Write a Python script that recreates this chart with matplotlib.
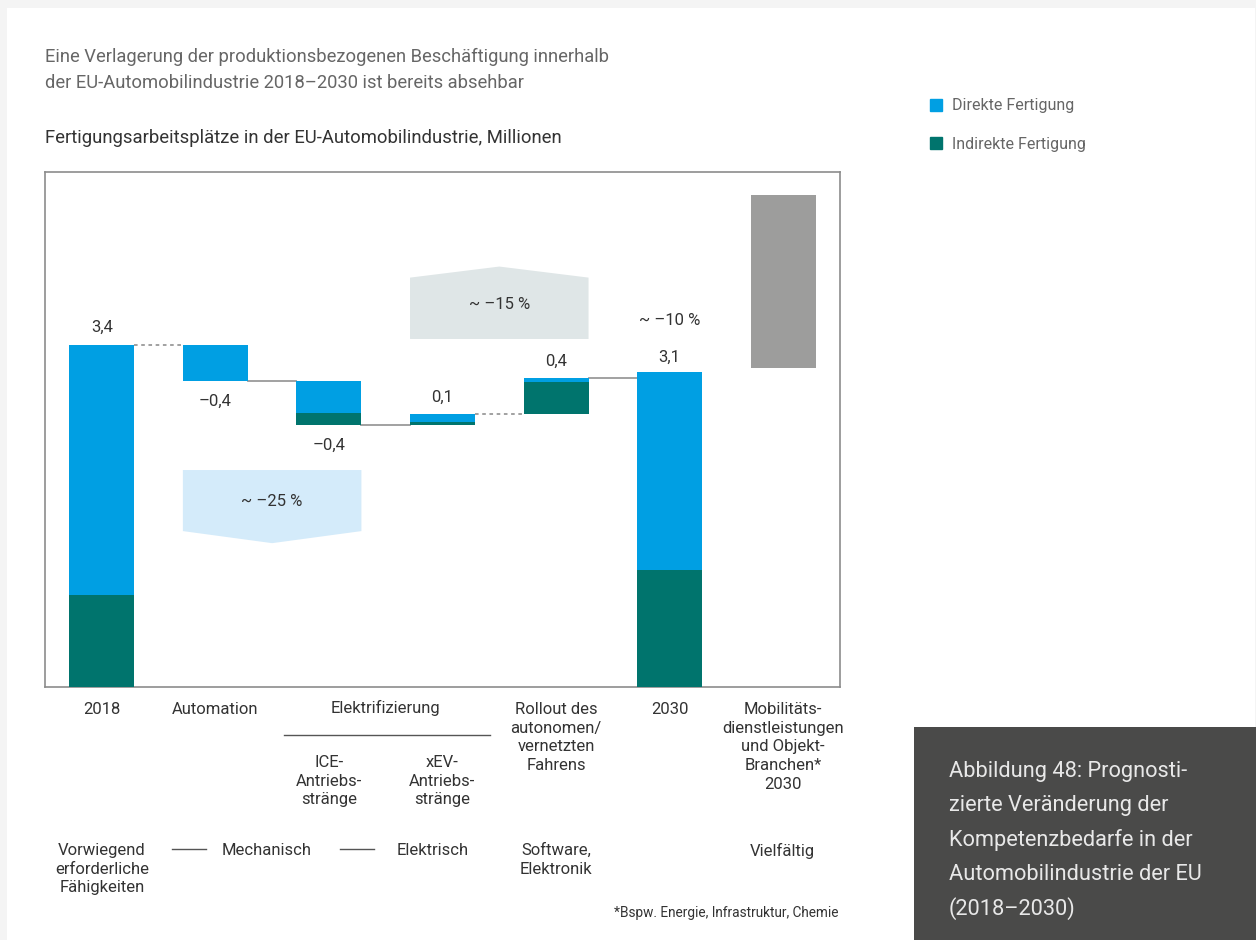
import matplotlib
matplotlib.use("Agg")
import matplotlib.pyplot as plt
from matplotlib.patches import Rectangle, Polygon, Patch

plt.rcParams['font.family'] = ['Roboto', 'DejaVu Sans']

# --- data (millions of jobs) ---
start_direct = 2.49
start_indirect = 0.91
step_names = ["Automation", "ICE", "xEV", "Rollout"]
delta_direct = [-0.36, -0.32, 0.08, 0.04]
delta_indirect = [0.0, -0.12, 0.03, 0.32]
end_direct = 1.97
end_indirect = 1.16
mobility_low = 3.17
mobility_high = 4.89

cat_labels = ["2018", "Automation", "", "", "Rollout des\nautonomen/\nvernetzten\nFahrens",
              "2030", "Mobilitäts-\ndienstleistungen\nund Objekt-\nBranchen*\n2030"]
skills = ["Vorwiegend\nerforderliche\nFähigkeiten", "Mechanisch", "Elektrisch",
          "Software,\nElektronik", "Vielfältig"]
skill_x = [0, 1.45, 2.91, 4.0, 5.99]

BLUE = "#009fe3"
TEAL = "#00746d"
GREY_BAR = "#9d9d9c"
LINE = "#9a9a9a"
DARK = "#333333"

W, H = 1256, 940
fig = plt.figure(figsize=(W / 100, H / 100), dpi=100)
fig.patch.set_facecolor("#f4f4f4")
fig.add_artist(Rectangle((7 / W, 0), (1255 - 7) / W, 1 - 8 / H, transform=fig.transFigure,
                         facecolor="white", edgecolor="none", zorder=0))


def fx(x):
    return x / W


def fy(y):
    return 1 - y / H


# axes frame: 45..840 px, 172..687 px
ax = fig.add_axes([fx(45), fy(687), (840 - 45) / W, (687 - 172) / H])
ax.set_xlim(-0.5, 6.5)
ax.set_ylim(0, 5.12)
ax.set_xticks([])
ax.set_yticks([])
for s in ax.spines.values():
    s.set_color("#8c8c8c")
    s.set_linewidth(1.2)

bw = 0.572

# 2018 bar
ax.bar(0, start_indirect, bw, color=TEAL, zorder=3)
ax.bar(0, start_direct, bw, bottom=start_indirect, color=BLUE, zorder=3)

totals = [start_direct + start_indirect]
for i in range(len(step_names)):
    old = totals[-1]
    new = old + delta_direct[i] + delta_indirect[i]
    low = min(old, new)
    ax.bar(i + 1, abs(delta_indirect[i]), bw, bottom=low, color=TEAL, zorder=3)
    ax.bar(i + 1, abs(delta_direct[i]), bw, bottom=low + abs(delta_indirect[i]), color=BLUE, zorder=3)
    totals.append(new)

# 2030 bar
ax.bar(5, end_indirect, bw, color=TEAL, zorder=3)
ax.bar(5, end_direct, bw, bottom=end_indirect, color=BLUE, zorder=3)

# mobility bar
ax.bar(6, mobility_high - mobility_low, bw, bottom=mobility_low, color=GREY_BAR, zorder=3)

# connectors
styles = [(0, (2, 2)), "-", "-", (0, (2, 2)), "-"]
for i, ls in enumerate(styles):
    ax.plot([i + bw / 2, i + 1 - bw / 2], [totals[i], totals[i]], color=LINE,
            lw=1.3, ls=ls, zorder=2)


def fmt(v):
    s = f"{abs(v):.1f}".replace(".", ",")
    return ("–" + s) if v < 0 else s


# value labels
lab_kw = dict(ha="center", va="center", fontsize=12, color=DARK,
              textcoords="offset pixels")
ax.annotate(fmt(totals[0]), (0, totals[0]), xytext=(0, 18), **lab_kw)
for i in range(len(step_names)):
    d = delta_direct[i] + delta_indirect[i]
    if d < 0:
        ax.annotate(fmt(d), (i + 1, totals[i + 1]), xytext=(0, -20), **lab_kw)
    else:
        ax.annotate(fmt(d), (i + 1, totals[i + 1]), xytext=(0, 17), **lab_kw)
end_total = end_direct + end_indirect
ax.annotate(fmt(end_total), (5, end_total), xytext=(0, 15), **lab_kw)
ax.annotate("~ –10 %", (5, end_total), xytext=(0, 52), **lab_kw)

# percentage arrows
x0, x1 = 1 - bw / 2, 2 + bw / 2
down = Polygon([[x0, 2.157], [x1, 2.157], [x1, 1.55], [1.5, 1.43], [x0, 1.55]],
               closed=True, facecolor="#d4ebfa", edgecolor="none", zorder=1)
ax.add_patch(down)
ax.text(1.5, 1.84, "~ –25 %", ha="center", va="center", fontsize=12, color=DARK)

x0, x1 = 3 - bw / 2, 4 + bw / 2
up = Polygon([[x0, 3.46], [x1, 3.46], [x1, 4.07], [3.5, 4.18], [x0, 4.07]],
             closed=True, facecolor="#dfe6e7", edgecolor="none", zorder=1)
ax.add_patch(up)
ax.text(3.5, 3.80, "~ –15 %", ha="center", va="center", fontsize=12, color=DARK)

# category labels below axes
xt = ax.get_xaxis_transform()


def ya(py):
    return (687 - py) / 515


LS = 1.31
FS = 12
for i, lab in enumerate(cat_labels):
    if lab:
        ax.text(i, ya(702), lab, transform=xt, ha="center", va="top", fontsize=FS,
                color=DARK, linespacing=LS)
ax.text(2.5, ya(708), "Elektrifizierung", transform=xt, ha="center", va="center",
        fontsize=FS, color=DARK)
ax.plot([(284 - 101.5) / 113.6, (490 - 101.5) / 113.6], [ya(735), ya(735)], transform=xt,
        color="#555555", lw=1, clip_on=False)
ax.text(2, ya(755), "ICE-\nAntriebs-\nstränge", transform=xt, ha="center", va="top",
        fontsize=FS, color=DARK, linespacing=LS)
ax.text(3, ya(755), "xEV-\nAntriebs-\nstränge", transform=xt, ha="center", va="top",
        fontsize=FS, color=DARK, linespacing=LS)

for x, lab in zip(skill_x, skills):
    ax.text(x, ya(843), lab, transform=xt, ha="center", va="top", fontsize=FS,
            color=DARK, linespacing=LS)
for a, b in [(172, 206), (340, 374)]:
    ax.plot([(a - 101.5) / 113.6, (b - 101.5) / 113.6], [ya(849), ya(849)], transform=xt,
            color="#555555", lw=1, clip_on=False)

fig.text(fx(838), fy(913), "*Bspw. Energie, Infrastruktur, Chemie", ha="right", va="center",
         fontsize=9.8, color=DARK)

# titles
fig.text(fx(45), fy(57), "Eine Verlagerung der produktionsbezogenen Beschäftigung innerhalb",
         ha="left", va="center", fontsize=13.2, color="#666666")
fig.text(fx(45), fy(83), "der EU-Automobilindustrie 2018–2030 ist bereits absehbar",
         ha="left", va="center", fontsize=13.2, color="#666666")
fig.text(fx(45), fy(138), "Fertigungsarbeitsplätze in der EU-Automobilindustrie, Millionen",
         ha="left", va="center", fontsize=13.3, color=DARK)

# legend
fig.legend(handles=[Patch(color=BLUE, label="Direkte Fertigung"),
                    Patch(color=TEAL, label="Indirekte Fertigung")],
           loc="upper left", bbox_to_anchor=(fx(916), fy(84)), frameon=False,
           handlelength=0.75, handleheight=0.75, handletextpad=0.6, labelspacing=1.45,
           fontsize=11.5, labelcolor="#666666")

# caption box
fig.add_artist(Rectangle((fx(914), 0), (W - 914) / W, (H - 727) / H,
                         transform=fig.transFigure, facecolor="#4a4a49", edgecolor="none"))
caption = ["Abbildung 48: Prognosti-", "zierte Veränderung der", "Kompetenzbedarfe in der",
           "Automobilindustrie der EU", "(2018–2030)"]
for k, line in enumerate(caption):
    fig.text(fx(949), fy(771 + k * 34.5), line, ha="left", va="center", fontsize=15.7,
             color="#e8e8e8")

fig.savefig("out.png", dpi=100, facecolor=fig.get_facecolor())
